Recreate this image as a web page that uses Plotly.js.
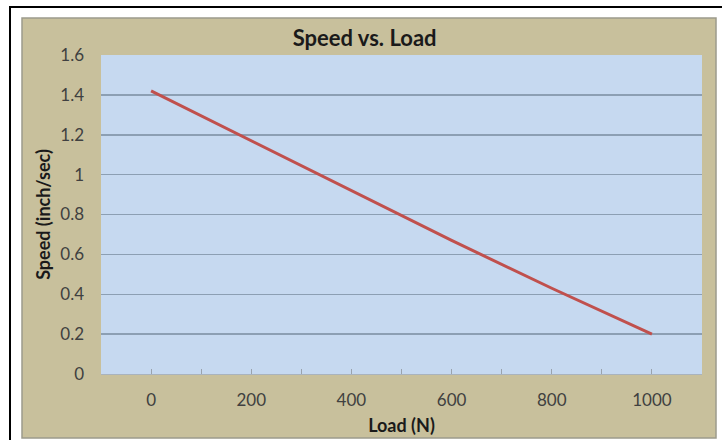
<!DOCTYPE html>
<html>
<head>
<meta charset="utf-8">
<script src="https://cdn.plot.ly/plotly-3.0.1.min.js"></script>
<style>html,body{margin:0;padding:0;background:#fff;}#chart{width:722px;height:440px;}</style>
</head>
<body>
<div id="chart"></div>
<script>
// Data
const loadN = [0, 200, 400, 600, 800, 1000];
const speed = [1.42, 1.17, 0.92, 0.67, 0.43, 0.2];
const xTickVals = [0, 100, 200, 300, 400, 500, 600, 700, 800, 900, 1000];
const xTickText = ["0", "", "200", "", "400", "", "600", "", "800", "", "1000"];
const yTickVals = [0, 0.2, 0.4, 0.6, 0.8, 1, 1.2, 1.4, 1.6];
const yTickText = ["0", "0.2", "0.4", "0.6", "0.8", "1", "1.2", "1.4", "1.6"];

const FONT = "Lato, 'Open Sans', 'Liberation Sans', sans-serif";

const trace = {
  x: loadN, y: speed, type: "scatter", mode: "lines",
  line: {color: "#c0504d", width: 3},
  hoverinfo: "skip", showlegend: false
};

// plot area: left 101, right 702, top 55, bottom 374 (px)
const L = 101, R = 702, T = 55, B = 374;
const pw = R - L, ph = B - T;
const px = v => (v - L) / pw;
const py = v => (B - v) / ph;

const layout = {
  width: 722, height: 440,
  margin: {l: L, r: 722 - R, t: T, b: 440 - B, pad: 0},
  paper_bgcolor: "#ffffff",
  plot_bgcolor: "#c6d9f0",
  font: {family: FONT, color: "#404040", size: 17},
  title: {
    text: "<b>Speed vs. Load</b>",
    font: {family: FONT, size: 22, color: "#1a1a1a"},
    xref: "container", x: 0.505, xanchor: "center",
    yref: "container", y: 1 - 38 / 440, yanchor: "middle"
  },
  xaxis: {
    range: [-100, 1100],
    tickmode: "array", tickvals: xTickVals, ticktext: xTickText,
    ticks: "inside", ticklen: 5, tickwidth: 1, tickcolor: "#9aa3ad",
    ticklabelstandoff: 11,
    showgrid: false, zeroline: false,
    showline: true, linecolor: "#a9b3bd", linewidth: 1,
    tickfont: {family: FONT, size: 17, color: "#404040"},
    title: {text: "<b>Load (N)</b>", font: {family: FONT, size: 18, color: "#1a1a1a"}, standoff: 9},
    automargin: false, fixedrange: true
  },
  yaxis: {
    range: [0, 1.6],
    tickmode: "array", tickvals: yTickVals, ticktext: yTickText,
    ticks: "", ticklabelstandoff: 16,
    showgrid: true, gridcolor: "#8c9fb3", gridwidth: 1.5,
    zeroline: false, showline: false,
    tickfont: {family: FONT, size: 17, color: "#404040"},
    title: {text: "<b>Speed (inch/sec)</b>", font: {family: FONT, size: 18, color: "#1a1a1a"}, standoff: 4},
    automargin: false, fixedrange: true
  },
  shapes: [
    {type: "rect", xref: "paper", yref: "paper", layer: "below",
     x0: px(10), x1: px(730), y0: py(448), y1: py(7),
     fillcolor: "#ffffff", line: {color: "#000000", width: 2}},
    {type: "rect", xref: "paper", yref: "paper", layer: "below",
     x0: px(22), x1: px(716), y0: py(438), y1: py(18),
     fillcolor: "#c8c09c", line: {color: "#9c9a8c", width: 1.5}},
    {type: "rect", xref: "paper", yref: "paper", layer: "below",
     x0: 0, x1: 1, y0: 0, y1: 1,
     fillcolor: "#c6d9f0", line: {width: 0}}
  ],
  showlegend: false
};

Plotly.newPlot("chart", [trace], layout, {displayModeBar: false, staticPlot: true});
</script>
</body>
</html>
